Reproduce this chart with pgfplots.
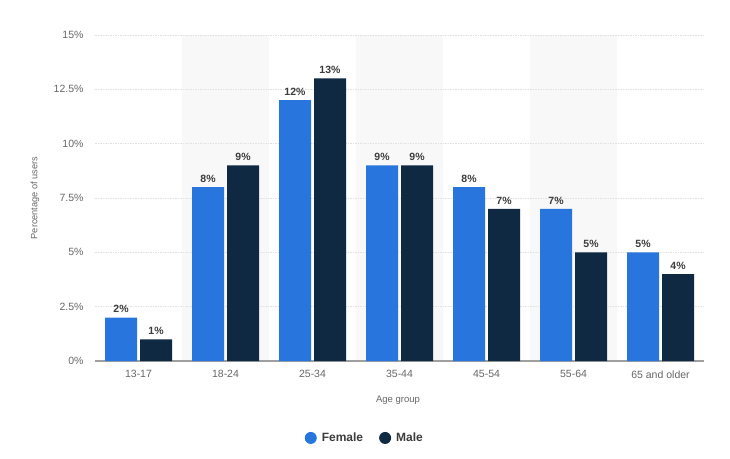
\documentclass[border=0pt]{standalone}
\usepackage{pgfplots}
\pgfplotsset{compat=1.18}
\usepackage{fontspec}
\setmainfont{Liberation Sans}
\definecolor{femaleblue}{RGB}{40,118,221}
\definecolor{malenavy}{RGB}{15,41,66}
\definecolor{bandgray}{RGB}{248,248,248}
\definecolor{gridgray}{RGB}{225,225,225}
\definecolor{tickgray}{RGB}{102,102,102}
\definecolor{valgray}{RGB}{60,60,60}
\begin{document}
\begin{tikzpicture}
\begin{axis}[
  at={(95pt,97pt)}, anchor=south west,
  scale only axis, width=609pt, height=326pt,
  set layers,
  /pgf/number format/assume math mode=true,
  xmin=-0.5, xmax=6.5, ymin=0, ymax=15,
  xtick={0,1,2,3,4,5,6},
  xticklabels={13-17,18-24,25-34,35-44,45-54,55-64,65 and older},
  ytick={0,2.5,5,7.5,10,12.5,15},
  yticklabels={0\%,2.5\%,5\%,7.5\%,10\%,12.5\%,15\%},
  axis x line*=bottom, axis y line*=left, y axis line style={draw=none},
  x axis line style={draw=gray!75, line width=1.1pt, -},
  major tick length=0pt,
  ymajorgrids, grid style={draw=gridgray, line width=0.8pt, dash pattern=on 1.5pt off 1pt},
  ticklabel style={font=\fontsize{10.5}{12}\selectfont, text=tickgray},
  yticklabel style={xshift=-8pt},
  xticklabel style={yshift=-6pt},
  ylabel={Percentage of users},
  ylabel style={at={(axis description cs:-0.0985,0.5)}, anchor=center, font=\fontsize{9.2}{10}\selectfont, text=tickgray},
  xlabel={Age group},
  xlabel style={at={(axis description cs:0.4975,-0.12)}, anchor=center, font=\fontsize{9.5}{11}\selectfont, text=tickgray},
  ybar, bar width=32pt,
  nodes near coords={\pgfmathprintnumber{\pgfplotspointmeta}\%},
  nodes near coords style={font=\bfseries\fontsize{10.5}{12}\selectfont, text=valgray, yshift=1pt},
  legend columns=2,
  legend style={at={(0.443,-0.236)}, anchor=center, draw=none, fill=none,
    font=\bfseries\fontsize{12}{14}\selectfont, text=valgray,
    /tikz/every odd column/.append style={column sep=3pt},
    /tikz/every even column/.append style={column sep=14pt}},
]
\pgfplotsextra{%
\begin{pgfonlayer}{axis background}
\fill[bandgray] (axis cs:0.5,0) rectangle (axis cs:1.5,15);
\fill[bandgray] (axis cs:2.5,0) rectangle (axis cs:3.5,15);
\fill[bandgray] (axis cs:4.5,0) rectangle (axis cs:5.5,15);
\end{pgfonlayer}}
\addplot[fill=femaleblue, draw=none, bar shift=-17.5pt,
  legend image code/.code={\fill[femaleblue] (4pt,0pt) circle (6pt);}]
  coordinates {(0,2) (1,8) (2,12) (3,9) (4,8) (5,7) (6,5)};
\addlegendentry{Female}
\addplot[fill=malenavy, draw=none, bar shift=17.5pt,
  legend image code/.code={\fill[malenavy] (4pt,0pt) circle (6pt);}]
  coordinates {(0,1) (1,9) (2,13) (3,9) (4,7) (5,5) (6,4)};
\addlegendentry{Male}
\end{axis}
\path (0,0) rectangle (730pt,458pt);
\end{tikzpicture}
\end{document}
